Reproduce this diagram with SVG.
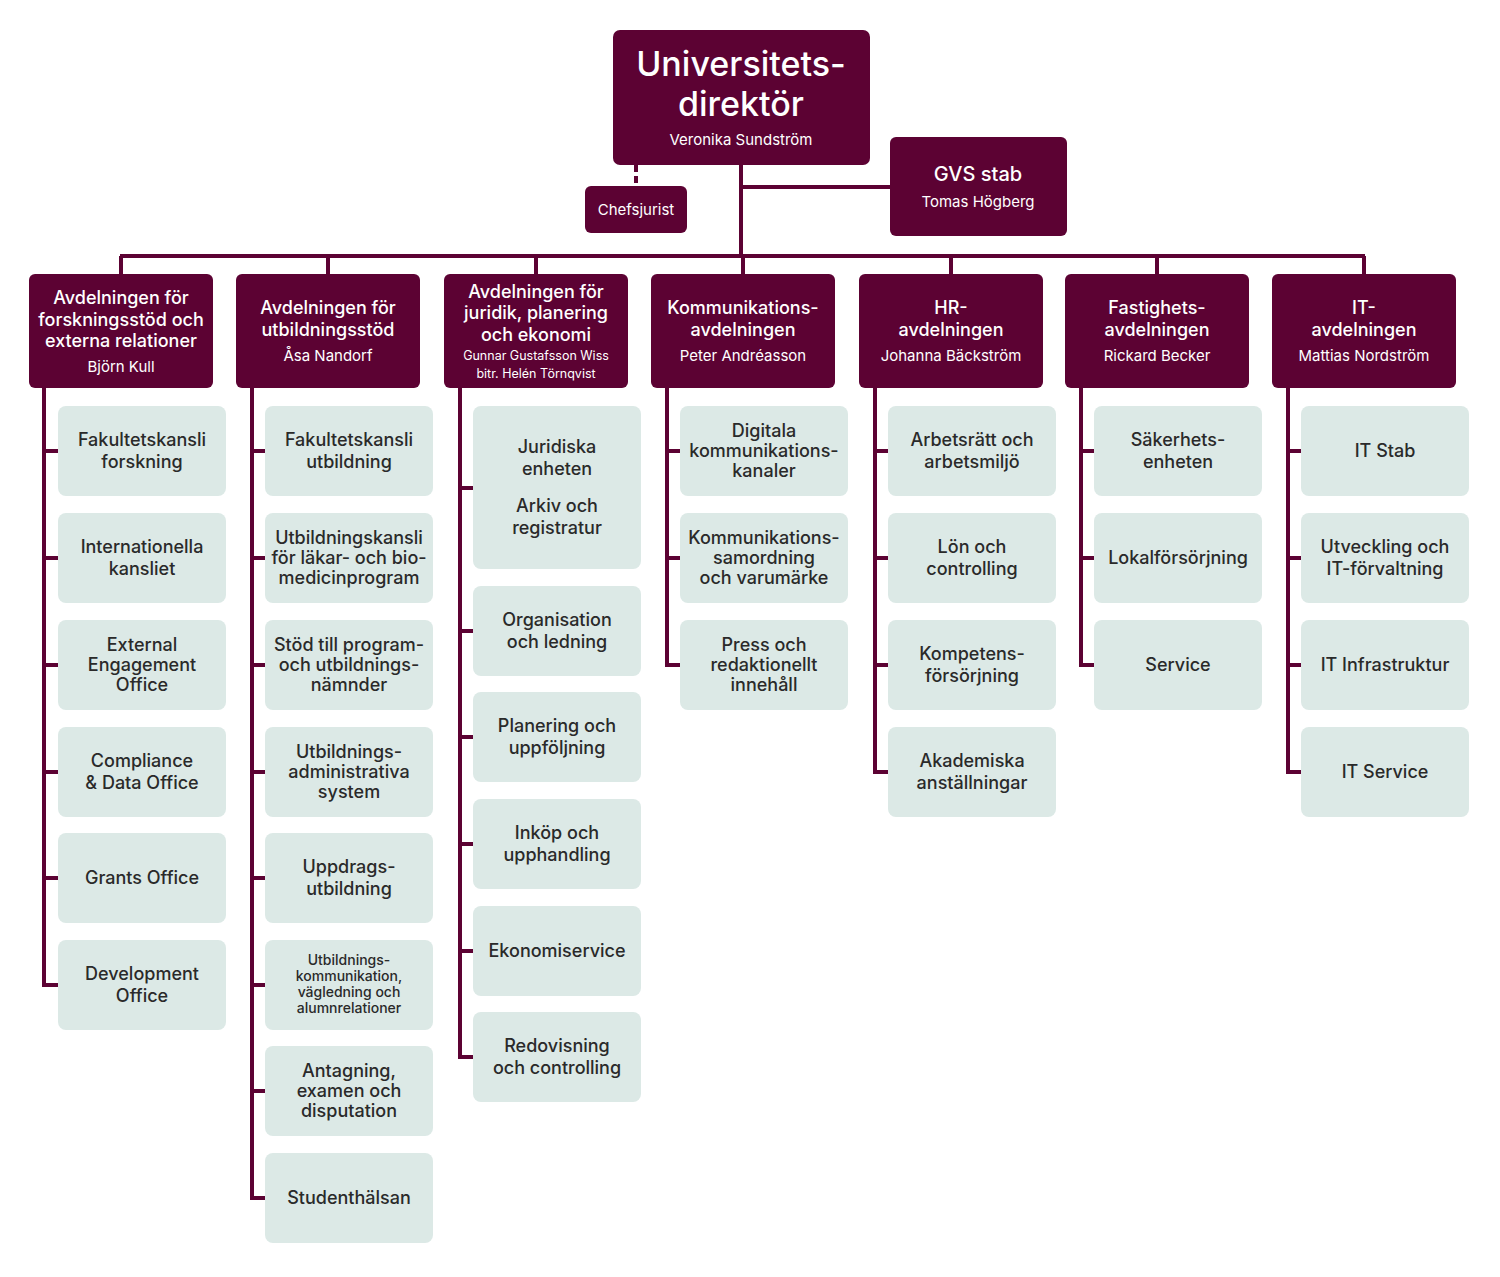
<svg xmlns="http://www.w3.org/2000/svg" width="1500" height="1277" viewBox="0 0 1500 1277">
<style>
.dk{fill:#5c0233}
.lt{fill:#dce9e6}
.w{fill:#ffffff;font-family:"Inter","Noto Sans",sans-serif;text-anchor:middle}
.t{fill:#2a2a2a;font-family:"Inter","Noto Sans",sans-serif;text-anchor:middle;font-size:18px;font-weight:500}
.h{font-size:18px;font-weight:500}
.n{font-size:15px}
.s{font-size:14px}
.ln{stroke:#5c0233;stroke-width:4;fill:none}
</style>
<rect width="1500" height="1277" fill="#ffffff"/>
<g id="connectors">
<path class="ln" d="M741 165V256M741 187H890M120 256H1365M121 256V274M328 256V274M536 256V274M743 256V274M951 256V274M1157 256V274M1364 256V274"/>
<path class="ln" d="M636 165V186" stroke-dasharray="7,4"/>
<path class="ln" d="M44 388V985H58M44 451H58M44 558H58M44 665H58M44 772H58M44 878H58"/>
<path class="ln" d="M252 388V1198H265M252 451H265M252 558H265M252 665H265M252 772H265M252 878H265M252 985H265M252 1091H265"/>
<path class="ln" d="M460 388V1057H473M460 488H473M460 631H473M460 737H473M460 844H473M460 951H473"/>
<path class="ln" d="M667 388V665H680M667 451H680M667 558H680"/>
<path class="ln" d="M875 388V772H888M875 451H888M875 558H888M875 665H888"/>
<path class="ln" d="M1081 388V665H1094M1081 451H1094M1081 558H1094"/>
<path class="ln" d="M1288 388V772H1301M1288 451H1301M1288 558H1301M1288 665H1301"/>
</g>
<g id="univdir"><rect class="dk" x="613" y="30" width="257" height="135" rx="7"/>
<text class="w" x="741" y="76" font-size="34" font-weight="500">Universitets-</text>
<text class="w" x="741" y="116" font-size="34" font-weight="500">direktör</text>
<text class="w n" x="741" y="145">Veronika Sundström</text></g>
<g id="chefsjurist"><rect class="dk" x="585" y="186" width="102" height="47" rx="6"/>
<text class="w n" x="636" y="215">Chefsjurist</text></g>
<g id="gvs"><rect class="dk" x="890" y="137" width="177" height="99" rx="6"/>
<text class="w" x="978" y="181" font-size="20" font-weight="500">GVS stab</text>
<text class="w n" x="978" y="207">Tomas Högberg</text></g>

<g id="h1"><rect class="dk" x="29" y="274" width="184" height="114" rx="6"/>
<text class="w h" x="121" y="304">Avdelningen för</text><text class="w h" x="121" y="326">forskningsstöd och</text><text class="w h" x="121" y="347">externa relationer</text><text class="w n" x="121" y="372">Björn Kull</text></g>
<g id="h2"><rect class="dk" x="236" y="274" width="184" height="114" rx="6"/>
<text class="w h" x="328" y="314">Avdelningen för</text><text class="w h" x="328" y="336">utbildningsstöd</text><text class="w n" x="328" y="361">Åsa Nandorf</text></g>
<g id="h3"><rect class="dk" x="444" y="274" width="184" height="114" rx="6"/>
<text class="w h" x="536" y="298">Avdelningen för</text><text class="w h" x="536" y="319">juridik, planering</text><text class="w h" x="536" y="341">och ekonomi</text><text class="w" font-size="12.5" x="536" y="360">Gunnar Gustafsson Wiss</text><text class="w" font-size="12.5" x="536" y="378">bitr. Helén Törnqvist</text></g>
<g id="h4"><rect class="dk" x="651" y="274" width="184" height="114" rx="6"/>
<text class="w h" x="743" y="314">Kommunikations-</text><text class="w h" x="743" y="336">avdelningen</text><text class="w n" x="743" y="361">Peter Andréasson</text></g>
<g id="h5"><rect class="dk" x="859" y="274" width="184" height="114" rx="6"/>
<text class="w h" x="951" y="314">HR-</text><text class="w h" x="951" y="336">avdelningen</text><text class="w n" x="951" y="361">Johanna Bäckström</text></g>
<g id="h6"><rect class="dk" x="1065" y="274" width="184" height="114" rx="6"/>
<text class="w h" x="1157" y="314">Fastighets-</text><text class="w h" x="1157" y="336">avdelningen</text><text class="w n" x="1157" y="361">Rickard Becker</text></g>
<g id="h7"><rect class="dk" x="1272" y="274" width="184" height="114" rx="6"/>
<text class="w h" x="1364" y="314">IT-</text><text class="w h" x="1364" y="336">avdelningen</text><text class="w n" x="1364" y="361">Mattias Nordström</text></g>

<g id="c1r1"><rect class="lt" x="58" y="406" width="168" height="90" rx="8"/><text class="t" x="142" y="446">Fakultetskansli</text><text class="t" x="142" y="468">forskning</text></g>
<g id="c1r2"><rect class="lt" x="58" y="513" width="168" height="90" rx="8"/><text class="t" x="142" y="553">Internationella</text><text class="t" x="142" y="575">kansliet</text></g>
<g id="c1r3"><rect class="lt" x="58" y="620" width="168" height="90" rx="8"/><text class="t" x="142" y="651">External</text><text class="t" x="142" y="671">Engagement</text><text class="t" x="142" y="691">Office</text></g>
<g id="c1r4"><rect class="lt" x="58" y="727" width="168" height="90" rx="8"/><text class="t" x="142" y="767">Compliance</text><text class="t" x="142" y="789">&amp; Data Office</text></g>
<g id="c1r5"><rect class="lt" x="58" y="833" width="168" height="90" rx="8"/><text class="t" x="142" y="884">Grants Office</text></g>
<g id="c1r6"><rect class="lt" x="58" y="940" width="168" height="90" rx="8"/><text class="t" x="142" y="980">Development</text><text class="t" x="142" y="1002">Office</text></g>

<g id="c2r1"><rect class="lt" x="265" y="406" width="168" height="90" rx="8"/><text class="t" x="349" y="446">Fakultetskansli</text><text class="t" x="349" y="468">utbildning</text></g>
<g id="c2r2"><rect class="lt" x="265" y="513" width="168" height="90" rx="8"/><text class="t" x="349" y="544">Utbildningskansli</text><text class="t" x="349" y="564">för läkar- och bio-</text><text class="t" x="349" y="584">medicinprogram</text></g>
<g id="c2r3"><rect class="lt" x="265" y="620" width="168" height="90" rx="8"/><text class="t" x="349" y="651">Stöd till program-</text><text class="t" x="349" y="671">och utbildnings-</text><text class="t" x="349" y="691">nämnder</text></g>
<g id="c2r4"><rect class="lt" x="265" y="727" width="168" height="90" rx="8"/><text class="t" x="349" y="758">Utbildnings-</text><text class="t" x="349" y="778">administrativa</text><text class="t" x="349" y="798">system</text></g>
<g id="c2r5"><rect class="lt" x="265" y="833" width="168" height="90" rx="8"/><text class="t" x="349" y="873">Uppdrags-</text><text class="t" x="349" y="895">utbildning</text></g>
<g id="c2r6"><rect class="lt" x="265" y="940" width="168" height="90" rx="8"/><text class="t s" x="349" y="965">Utbildnings-</text><text class="t s" x="349" y="981">kommunikation,</text><text class="t s" x="349" y="997">vägledning och</text><text class="t s" x="349" y="1013">alumnrelationer</text></g>
<g id="c2r7"><rect class="lt" x="265" y="1046" width="168" height="90" rx="8"/><text class="t" x="349" y="1077">Antagning,</text><text class="t" x="349" y="1097">examen och</text><text class="t" x="349" y="1117">disputation</text></g>
<g id="c2r8"><rect class="lt" x="265" y="1153" width="168" height="90" rx="8"/><text class="t" x="349" y="1204">Studenthälsan</text></g>

<g id="c3r1"><rect class="lt" x="473" y="406" width="168" height="163" rx="8"/><text class="t" x="557" y="453">Juridiska</text><text class="t" x="557" y="475">enheten</text><text class="t" x="557" y="512">Arkiv och</text><text class="t" x="557" y="534">registratur</text></g>
<g id="c3r2"><rect class="lt" x="473" y="586" width="168" height="90" rx="8"/><text class="t" x="557" y="626">Organisation</text><text class="t" x="557" y="648">och ledning</text></g>
<g id="c3r3"><rect class="lt" x="473" y="692" width="168" height="90" rx="8"/><text class="t" x="557" y="732">Planering och</text><text class="t" x="557" y="754">uppföljning</text></g>
<g id="c3r4"><rect class="lt" x="473" y="799" width="168" height="90" rx="8"/><text class="t" x="557" y="839">Inköp och</text><text class="t" x="557" y="861">upphandling</text></g>
<g id="c3r5"><rect class="lt" x="473" y="906" width="168" height="90" rx="8"/><text class="t" x="557" y="957">Ekonomiservice</text></g>
<g id="c3r6"><rect class="lt" x="473" y="1012" width="168" height="90" rx="8"/><text class="t" x="557" y="1052">Redovisning</text><text class="t" x="557" y="1074">och controlling</text></g>

<g id="c4r1"><rect class="lt" x="680" y="406" width="168" height="90" rx="8"/><text class="t" x="764" y="437">Digitala</text><text class="t" x="764" y="457">kommunikations-</text><text class="t" x="764" y="477">kanaler</text></g>
<g id="c4r2"><rect class="lt" x="680" y="513" width="168" height="90" rx="8"/><text class="t" x="764" y="544">Kommunikations-</text><text class="t" x="764" y="564">samordning</text><text class="t" x="764" y="584">och varumärke</text></g>
<g id="c4r3"><rect class="lt" x="680" y="620" width="168" height="90" rx="8"/><text class="t" x="764" y="651">Press och</text><text class="t" x="764" y="671">redaktionellt</text><text class="t" x="764" y="691">innehåll</text></g>

<g id="c5r1"><rect class="lt" x="888" y="406" width="168" height="90" rx="8"/><text class="t" x="972" y="446">Arbetsrätt och</text><text class="t" x="972" y="468">arbetsmiljö</text></g>
<g id="c5r2"><rect class="lt" x="888" y="513" width="168" height="90" rx="8"/><text class="t" x="972" y="553">Lön och</text><text class="t" x="972" y="575">controlling</text></g>
<g id="c5r3"><rect class="lt" x="888" y="620" width="168" height="90" rx="8"/><text class="t" x="972" y="660">Kompetens-</text><text class="t" x="972" y="682">försörjning</text></g>
<g id="c5r4"><rect class="lt" x="888" y="727" width="168" height="90" rx="8"/><text class="t" x="972" y="767">Akademiska</text><text class="t" x="972" y="789">anställningar</text></g>

<g id="c6r1"><rect class="lt" x="1094" y="406" width="168" height="90" rx="8"/><text class="t" x="1178" y="446">Säkerhets-</text><text class="t" x="1178" y="468">enheten</text></g>
<g id="c6r2"><rect class="lt" x="1094" y="513" width="168" height="90" rx="8"/><text class="t" x="1178" y="564">Lokalförsörjning</text></g>
<g id="c6r3"><rect class="lt" x="1094" y="620" width="168" height="90" rx="8"/><text class="t" x="1178" y="671">Service</text></g>

<g id="c7r1"><rect class="lt" x="1301" y="406" width="168" height="90" rx="8"/><text class="t" x="1385" y="457">IT Stab</text></g>
<g id="c7r2"><rect class="lt" x="1301" y="513" width="168" height="90" rx="8"/><text class="t" x="1385" y="553">Utveckling och</text><text class="t" x="1385" y="575">IT-förvaltning</text></g>
<g id="c7r3"><rect class="lt" x="1301" y="620" width="168" height="90" rx="8"/><text class="t" x="1385" y="671">IT Infrastruktur</text></g>
<g id="c7r4"><rect class="lt" x="1301" y="727" width="168" height="90" rx="8"/><text class="t" x="1385" y="778">IT Service</text></g>
</svg>
